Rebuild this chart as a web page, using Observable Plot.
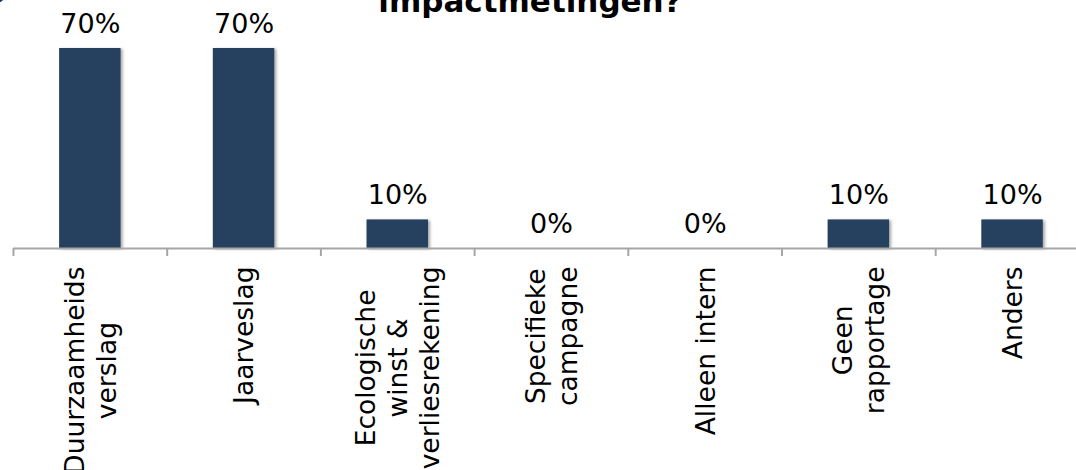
<!DOCTYPE html>
<html>
<head>
<meta charset="utf-8">
<script src="https://cdn.jsdelivr.net/npm/d3@7"></script>
<script src="https://cdn.jsdelivr.net/npm/@observablehq/plot@0.6"></script>
<style>
  html, body { margin: 0; padding: 0; background: #fff; overflow: hidden; }
  #wrap { position: relative; width: 1076px; height: 470px; overflow: hidden; }
  #title { position: absolute; left: 0; width: 1060px; top: -14px; text-align: center;
           font: bold 31px "DejaVu Sans", Verdana, sans-serif; line-height: 31px; color: #000; white-space: nowrap; }
  #logo { position: absolute; left: -22px; top: -26px; width: 30px; height: 30px; border-radius: 50%; background: #1f3864; }
  #chart { position: absolute; left: 0; top: 0; }
</style>
</head>
<body>
<div id="wrap">
  <div id="chart"></div>
  <div id="title">impactmetingen?</div>
  <div id="logo"></div>
</div>
<script>
const categories = [
  "Duurzaamheids\nverslag",
  "Jaarveslag",
  "Ecologische\nwinst &\nverliesrekening",
  "Specifieke\ncampagne",
  "Alleen intern",
  "Geen\nrapportage",
  "Anders"
];
const values = [70, 70, 10, 0, 0, 10, 10];
const valueLabels = ["70%", "70%", "10%", "0%", "0%", "10%", "10%"];

const data = categories.map((c, i) => ({i, category: c, value: values[i], label: valueLabels[i]}));
const boundaries = d3.range(categories.length + 1);

const font = '"DejaVu Sans", Verdana, sans-serif';

const plot = Plot.plot({
  width: 1076,
  height: 470,
  marginLeft: 13,
  marginRight: 0,
  marginTop: 0,
  marginBottom: 222,
  style: {fontFamily: font, background: "transparent", overflow: "visible"},
  x: {domain: [0, categories.length], range: [13, 13 + 153.7 * categories.length], axis: null},
  y: {domain: [0, 70], range: [248, 48], axis: null},
  marks: [
    Plot.rectY(data, {x1: d => d.i + 0.3, x2: d => d.i + 0.7, y1: 0, y2: "value", fill: "#283f5f", className: "bars"}),
    Plot.ruleY([0], {stroke: "#a6a6a6", strokeWidth: 2}),
    Plot.ruleX(boundaries, {x: d => d, y1: 0, y2: -2.8, stroke: "#a6a6a6", strokeWidth: 2}),
    Plot.text(data, {x: d => d.i + 0.5, y: "value", text: "label", dy: -16, lineAnchor: "bottom",
      fontSize: 27, fill: "#000"}),
    Plot.text(data, {x: d => d.i + 0.5, y: 0, text: "category", rotate: -90, textAnchor: "end",
      lineAnchor: "middle", lineHeight: 1.22, dx: -1, dy: 18, fontSize: 26.5, fill: "#000", className: "catlabels"})
  ]
});

document.getElementById("chart").appendChild(plot);

// center the lines of multi-line category labels, keeping the block's top end fixed
plot.querySelectorAll("g.catlabels text").forEach(t => {
  const spans = t.querySelectorAll("tspan");
  if (!spans.length) return;
  let M = 0;
  spans.forEach(s => { M = Math.max(M, s.getComputedTextLength()); });
  t.setAttribute("text-anchor", "middle");
  spans.forEach(s => s.setAttribute("x", -M / 2));
});

// soft shadow on bars
const ns = "http://www.w3.org/2000/svg";
const defs = document.createElementNS(ns, "defs");
defs.innerHTML = '<filter id="shadow" x="-20%" y="-20%" width="150%" height="150%"><feDropShadow dx="2" dy="1" stdDeviation="1.5" flood-color="#000" flood-opacity="0.35"/></filter>';
plot.insertBefore(defs, plot.firstChild);
const bars = plot.querySelector("g.bars");
if (bars) bars.setAttribute("filter", "url(#shadow)");
</script>
</body>
</html>
